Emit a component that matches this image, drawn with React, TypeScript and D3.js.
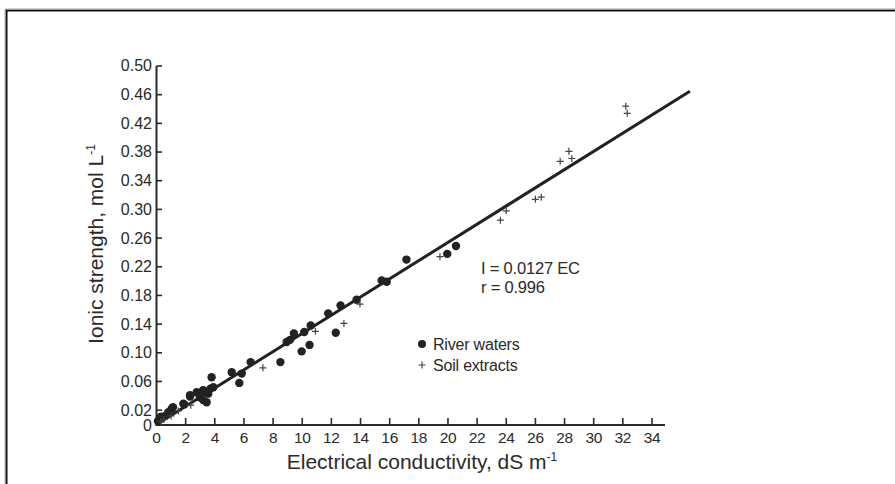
import React from "react";
import * as d3 from "d3";

const riverEC = [0.1, 0.25, 0.4, 0.6, 0.3, 0.81, 1.04, 1.13, 1.84, 1.9, 2.3, 2.3, 2.76, 2.98, 3.2, 3.2, 3.44, 3.55, 3.7, 3.9, 3.78, 5.16, 5.68, 5.85, 6.46, 8.5, 8.93, 9.16, 9.43, 9.96, 10.14, 10.5, 10.58, 11.78, 12.3, 12.63, 13.73, 15.45, 15.8, 17.15, 19.95, 20.55];
const riverI = [0.005, 0.008, 0.01, 0.012, 0.011, 0.017, 0.022, 0.024, 0.029, 0.028, 0.039, 0.041, 0.045, 0.038, 0.034, 0.048, 0.031, 0.043, 0.05, 0.052, 0.066, 0.073, 0.058, 0.071, 0.087, 0.087, 0.115, 0.118, 0.127, 0.102, 0.129, 0.111, 0.138, 0.155, 0.128, 0.166, 0.174, 0.201, 0.199, 0.230, 0.238, 0.249];
const soilEC = [0.3, 0.5, 1.0, 1.5, 2.35, 7.3, 10.9, 12.86, 13.96, 19.45, 23.6, 24.0, 26.0, 26.4, 27.7, 28.3, 28.5, 32.2, 32.3];
const soilI = [0.004, 0.007, 0.012, 0.019, 0.027, 0.079, 0.130, 0.141, 0.168, 0.234, 0.285, 0.298, 0.314, 0.317, 0.367, 0.381, 0.371, 0.444, 0.434];
const xTicks = [0, 2, 4, 6, 8, 10, 12, 14, 16, 18, 20, 22, 24, 26, 28, 30, 32, 34];
const yTicks = [0, 0.02, 0.06, 0.1, 0.14, 0.18, 0.22, 0.26, 0.3, 0.34, 0.38, 0.42, 0.46, 0.5];
const slope = 0.0127;
const fitRange = [0, 36.6];

const W = 895, H = 484;
const font = "'Liberation Sans', Arial, Helvetica, sans-serif";
const ink = "#2a2a2a";

export default function App() {
  const x = d3.scaleLinear().domain([0, 34]).range([156.5, 652]);
  const y = d3.scaleLinear().domain([0, 0.5]).range([424.5, 66]);
  const line = d3.line<number>().x((d) => x(d)).y((d) => y(slope * d));
  const fmt = (v: number) => (v === 0 ? "0" : d3.format(".2f")(v));
  return (
    <svg width={W} height={H} style={{ position: "absolute", left: 0, top: 0, background: "#fff" }} fontFamily={font}>
      <rect x={0} y={0} width={W} height={H} fill="#fff" />
      {/* frame */}
      <path d={`M6.5,${H} V10.5 H${W}`} fill="none" stroke="#111" strokeWidth={2} />
      <path d={`M5,${H} V9 H${W}`} fill="none" stroke="#999" strokeWidth={0.8} />
      {/* axes */}
      <line x1={x(0)} x2={x(0)} y1={y(0.5)} y2={y(0) + 1} stroke={ink} strokeWidth={2} />
      <line x1={x(0) - 1} x2={665} y1={y(0) + 0.5} y2={y(0) + 0.5} stroke={ink} strokeWidth={2} />
      {yTicks.map((t) => (
        <g key={"y" + t}>
          <line x1={x(0)} x2={x(0) + 5.5} y1={y(t)} y2={y(t)} stroke={ink} strokeWidth={1.6} />
          <text x={152} y={y(t)} dy={t === 0 ? "0.42em" : "0.34em"} textAnchor="end" fontSize={16} fill={ink}>{fmt(t)}</text>
        </g>
      ))}
      {xTicks.map((t) => (
        <g key={"x" + t}>
          <line x1={x(t)} x2={x(t)} y1={y(0)} y2={y(0) - 6.5} stroke={ink} strokeWidth={1.6} />
          <text x={x(t)} y={y(0) + 18} textAnchor="middle" fontSize={15.5} letterSpacing={-0.3} fill={ink}>{t}</text>
        </g>
      ))}
      {/* titles */}
      <text x={422} y={469} textAnchor="middle" fontSize={21} fill={ink}>
        Electrical conductivity, dS m<tspan dy={-8} fontSize={12}>-1</tspan>
      </text>
      <text transform={`translate(103,${244}) rotate(-90)`} textAnchor="middle" fontSize={21} fill={ink}>
        Ionic strength, mol L<tspan dy={-8} fontSize={12}>-1</tspan>
      </text>
      {/* fit line */}
      <path d={line(fitRange) || ""} fill="none" stroke="#222" strokeWidth={3} />
      {/* points */}
      {riverEC.map((v, i) => (
        <circle key={"r" + i} cx={x(v)} cy={y(riverI[i])} r={4.2} fill="#222" />
      ))}
      {soilEC.map((v, i) => (
        <path key={"s" + i} d={`M${x(v) - 3.5},${y(soilI[i])}h7M${x(v)},${y(soilI[i]) - 3.5}v7`} stroke="#444" strokeWidth={1.2} />
      ))}
      {/* annotation */}
      <text x={481} y={274} fontSize={16.5} letterSpacing={-0.2} fill={ink}>I = 0.0127 EC</text>
      <text x={481} y={292.5} fontSize={16.5} letterSpacing={-0.2} fill={ink}>r = 0.996</text>
      {/* legend */}
      <circle cx={422} cy={344} r={4} fill="#222" />
      <text x={433} y={349.5} fontSize={16} letterSpacing={-0.2} fill={ink}>River waters</text>
      <path d={`M418.5,365h7M422,361.5v7`} stroke="#444" strokeWidth={1.2} />
      <text x={433} y={370.5} fontSize={16} letterSpacing={-0.2} fill={ink}>Soil extracts</text>
    </svg>
  );
}
